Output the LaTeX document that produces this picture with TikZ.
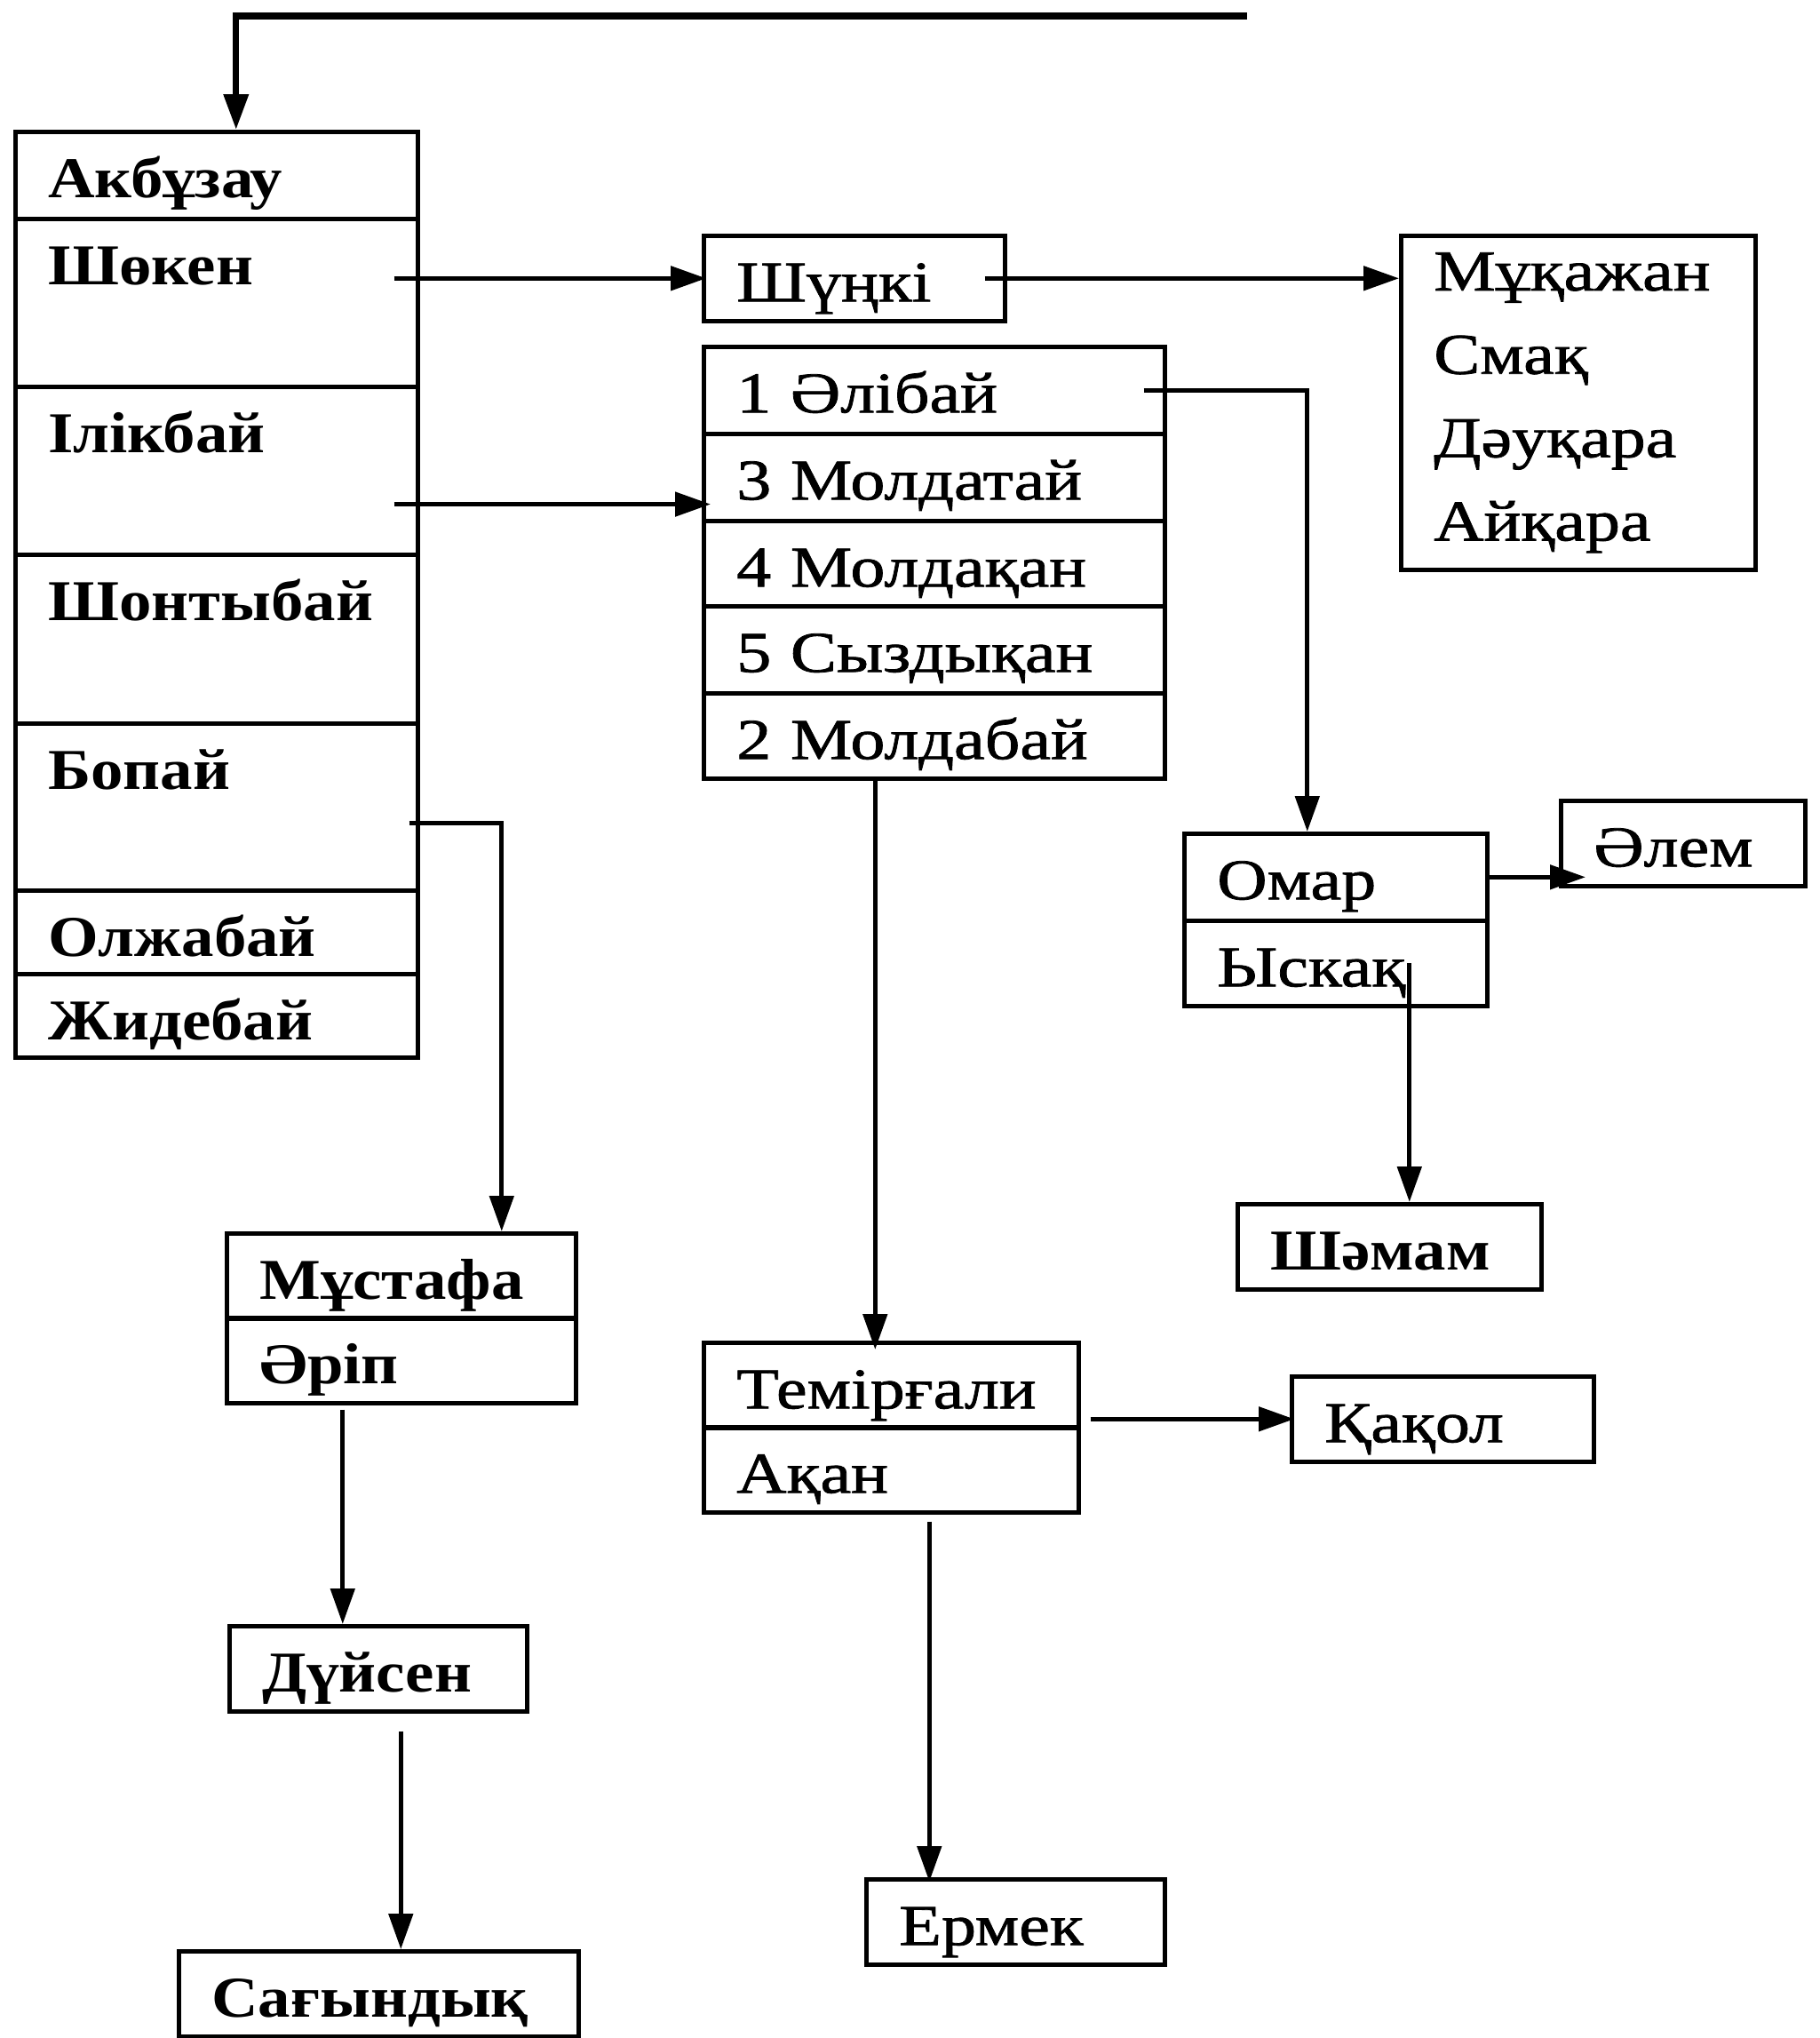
\documentclass[tikz,border=0pt]{standalone}
\usepackage{fontspec}
\setmainfont{Liberation Serif}[FakeStretch=1.12]
\newfontfamily\regfont{Liberation Serif}[FakeStretch=1.2, FakeBold=1.2]
\usetikzlibrary{arrows.meta}

\begin{document}
\begin{tikzpicture}[
        % common looks
        cell/.style={
            draw, line width=1.3pt, anchor=north west,
            inner xsep=0.37cm, inner ysep=0pt, align=left,
            text height=0.74cm, text depth=0.22cm,
            font=\regfont\fontsize{18.5}{26.7}\selectfont
        },
        bcell/.style={cell, font=\fontsize{18.5}{26.7}\selectfont\bfseries},
        tall/.style={text depth=#1cm},
        list/.style={
            draw, line width=1.3pt, anchor=north west,
            inner xsep=0.37cm, inner ysep=0pt, align=left,
            minimum height=3.76cm, font=\regfont\fontsize{18.5}{26.7}\selectfont
        },
        arr/.style={-{Triangle[length=0.4cm,width=0.27cm]}, line width=1.4pt}
    ]
        \useasboundingbox (0,0) rectangle (20.49,-22.94);

        % left column
        \node[bcell, text width=3.79cm, tall=0.24] (akbuzau) at (0.15,-1.46) {Акбұзау};
        \node[bcell, text width=3.79cm, tall=1.15] (shoken) at (0.15,-2.44) {Шөкен};
        \node[bcell, text width=3.79cm, tall=1.15] (ilikbay) at (0.15,-4.33) {Ілікбай};
        \node[bcell, text width=3.79cm, tall=1.16] (shontybay) at (0.15,-6.22) {Шонтыбай};
        \node[bcell, text width=3.79cm, tall=1.14] (bopay) at (0.15,-8.12) {Бопай};
        \node[bcell, text width=3.79cm, tall=0.20] (olzhabay) at (0.15,-10.00) {Олжабай};
        \node[bcell, text width=3.79cm, tall=0.20] (zhidebay) at (0.15,-10.94) {Жидебай};

        % middle column
        \node[cell, text width=2.65cm] (shunki) at (7.90,-2.63) {Шүңкі};
        \node[cell, text width=4.45cm, tall=0.24] (alibay) at (7.90,-3.88) {1 Әлібай};
        \node[cell, text width=4.45cm, tall=0.24] (molda3) at (7.90,-4.86) {3 Молдатай};
        \node[cell, text width=4.45cm] (molda4) at (7.90,-5.84) {4 Молдақан};
        \node[cell, text width=4.45cm, tall=0.24] (syzdyk) at (7.90,-6.80) {5 Сыздықан};
        \node[cell, text width=4.45cm] (molda2) at (7.90,-7.78) {2 Молдабай};

        \node[cell, text width=3.48cm] (temir) at (7.90,-15.09) {Темірғали};
        \node[cell, text width=3.48cm] (akan) at (7.90,-16.04) {Ақан};
        \node[cell, text width=2.62cm] (ermek) at (9.73,-21.13) {Ермек};

        % right column
        \node[list, text width=3.25cm] (mukazhan) at (15.75,-2.63) {Мұқажан\\Смақ\\Дәуқара\\Айқара};
        \node[cell, text width=2.67cm, tall=0.24] (omar) at (13.31,-9.36) {Омар};
        \node[cell, text width=2.67cm] (yskak) at (13.31,-10.34) {Ыскақ};
        \node[cell, text width=2.01cm] (alem) at (17.55,-8.99) {Әлем};
        \node[bcell, text width=2.68cm] (shamam) at (13.91,-13.53) {Шәмам};
        \node[cell, text width=2.66cm] (kakol) at (14.52,-15.47) {Қақол};

        % lower left
        \node[bcell, text width=3.19cm] (mustafa) at (2.53,-13.86) {Мұстафа};
        \node[bcell, text width=3.19cm] (arip) at (2.53,-14.81) {Әріп};
        \node[bcell, text width=2.61cm] (duysen) at (2.56,-18.28) {Дүйсен};
        \node[bcell, text width=3.76cm] (sagyndyk) at (1.99,-21.94) {Сағындық};

        % connectors
        \coordinate (topend) at (14.04,-0.18);
        \draw[arr, line width=2pt] (topend) -| ([xshift=0.22cm]akbuzau.north);
        \draw[arr] ([xshift=-0.29cm]shoken.east |- shunki.west) -- ([xshift=0.05cm]shunki.west);
        \coordinate (mukin) at (mukazhan.west |- shunki.east);
        \draw[arr] ([xshift=-0.25cm]shunki.east) -- (mukin);
        \coordinate (ilin) at ([yshift=0.21cm]molda3.south west);
        \draw[arr] ([xshift=-0.29cm]ilikbay.east |- ilin) -- ([xshift=0.1cm]ilin);
        \draw[arr] ([xshift=-0.26cm]alibay.east) -| ([xshift=-0.32cm]omar.north);
        \draw[arr] (omar.east) -- ([xshift=0.3cm]omar.east -| alem.west);
        \draw[arr] ([xshift=0.83cm]yskak.center) -- ([xshift=0.83cm]yskak.center |- shamam.north);
        \draw[arr] ([xshift=-0.12cm,yshift=-0.18cm]bopay.east) -| ([xshift=1.13cm]mustafa.north);
        \draw[arr] ([xshift=-0.4cm,yshift=-0.05cm]duysen.north |- arip.south) -- ([xshift=-0.4cm]duysen.north);
        \draw[arr] ([xshift=0.25cm,yshift=-0.2cm]sagyndyk.north |- duysen.south) -- ([xshift=0.25cm]sagyndyk.north);
        \draw[arr] ([xshift=-0.18cm]temir.north |- molda2.south) -- ([xshift=-0.18cm,yshift=-0.1cm]temir.north);
        \draw[arr] ([xshift=0.11cm]temir.east |- kakol.west) -- ([xshift=0.05cm]kakol.west);
        \draw[arr] ([xshift=-0.97cm,yshift=-0.08cm]ermek.north |- akan.south) -- ([xshift=-0.97cm,yshift=-0.05cm]ermek.north);

    \end{tikzpicture}
\end{document}
